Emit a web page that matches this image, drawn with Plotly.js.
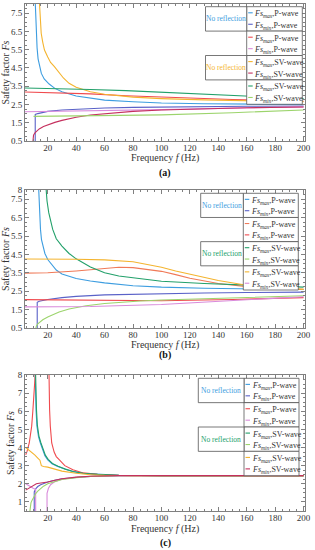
<!DOCTYPE html>
<html><head><meta charset="utf-8">
<script src="https://cdn.plot.ly/plotly-3.0.1.min.js"></script>
<style>html,body{margin:0;padding:0;background:#fff}#chart{width:315px;height:550px}</style>
</head><body><div id="chart"></div>
<script>
// ---------- Panel (a) data ----------
const a_maxP_noref_f = [11.1, 11.5, 12.0, 12.5, 13.2, 14.2, 15.5, 17.5, 21, 25, 30, 40, 50, 60, 80, 100, 130, 160, 200];
const a_maxP_noref_v = [8.3, 7.2, 6.3, 5.6, 5.0, 4.57, 4.2, 3.9, 3.62, 3.38, 3.2, 2.96, 2.83, 2.74, 2.65, 2.58, 2.54, 2.52, 2.5];
const a_minP_noref_f = [11.2, 11.2, 13, 16, 20, 30, 40, 60, 80, 100, 130, 160, 200];
const a_minP_noref_v = [0.4, 1.95, 2.0, 2.06, 2.12, 2.2, 2.25, 2.31, 2.34, 2.36, 2.38, 2.4, 2.42];
const a_maxP_f = [4, 25, 50, 75, 100, 125, 150, 175, 200];
const a_maxP_v = [3.18, 3.15, 3.08, 2.98, 2.9, 2.83, 2.77, 2.72, 2.68];
const a_minP_f = [4, 50, 100, 150, 200];
const a_minP_v = [2.1, 2.14, 2.22, 2.3, 2.37];
const a_maxSV_noref_f = [14.0, 14.6, 15.4, 16.5, 17.7, 20, 22, 24.7, 28, 31, 35, 40, 50, 60, 80, 100, 130, 160, 200];
const a_maxSV_noref_v = [8.3, 7.2, 6.4, 5.9, 5.48, 5.1, 4.8, 4.57, 4.25, 3.95, 3.66, 3.44, 3.2, 3.06, 2.9, 2.82, 2.75, 2.7, 2.65];
const a_minSV_noref_f = [9.5, 9.6, 10, 11, 12, 14, 17, 20, 25, 30, 40, 50, 60, 80, 100, 130, 160, 200];
const a_minSV_noref_v = [0.4, 0.7, 0.82, 0.95, 1.04, 1.16, 1.29, 1.38, 1.52, 1.63, 1.8, 1.92, 2.0, 2.12, 2.2, 2.27, 2.32, 2.36];
const a_maxSV_f = [4, 25, 50, 75, 100, 125, 150, 175, 200];
const a_maxSV_v = [3.4, 3.38, 3.32, 3.26, 3.18, 3.09, 3.0, 2.91, 2.82];
const a_minSV_f = [10, 50, 100, 150, 200];
const a_minSV_v = [1.85, 1.87, 1.93, 2.05, 2.2];

// ---------- Panel (b) data ----------
const b_maxP_noref_f = [13.5, 14.2, 14.9, 15.6, 16.5, 18, 20, 23, 26, 30, 35, 40, 50, 60, 80, 100, 130, 160, 200];
const b_maxP_noref_v = [8.3, 6.77, 5.86, 5.3, 4.95, 4.55, 4.22, 3.9, 3.65, 3.44, 3.3, 3.19, 3.05, 2.95, 2.8, 2.72, 2.66, 2.62, 2.59];
const b_minP_noref_f = [12.6, 12.6, 14, 17, 20, 30, 40, 60, 80, 100, 130, 160, 200];
const b_minP_noref_v = [0.4, 1.9, 1.95, 2.01, 2.05, 2.15, 2.22, 2.3, 2.34, 2.37, 2.4, 2.43, 2.45];
const b_maxP_f = [4, 20, 40, 60, 70, 80, 90, 100, 110, 120, 140, 160, 180, 200];
const b_maxP_v = [3.48, 3.5, 3.6, 3.75, 3.8, 3.78, 3.7, 3.58, 3.4, 3.2, 2.92, 2.75, 2.65, 2.6];
const b_minP_f = [4, 50, 100, 150, 200];
const b_minP_v = [2.04, 2.0, 1.98, 2.05, 2.15];
const b_maxSV_noref_f = [18.6, 19.5, 20.7, 22, 23.5, 26, 30, 35, 40, 50, 60, 70, 80, 100, 130, 160, 200];
const b_maxSV_noref_v = [8.3, 7.4, 6.77, 6.25, 5.86, 5.35, 4.95, 4.55, 4.26, 3.82, 3.5, 3.33, 3.22, 3.04, 2.92, 2.84, 2.72];
const b_minSV_noref_f = [11.5, 12, 13, 14.5, 16.5, 20, 23.5, 28, 35, 47, 60, 70, 85, 100, 130, 160, 200];
const b_minSV_noref_v = [0.45, 0.6, 0.72, 0.84, 0.95, 1.1, 1.22, 1.37, 1.53, 1.71, 1.83, 1.9, 1.97, 2.02, 2.1, 2.17, 2.25];
const b_maxSV_f = [4, 20, 40, 60, 70, 80, 90, 100, 110, 120, 140, 160, 180, 200];
const b_maxSV_v = [4.25, 4.25, 4.24, 4.2, 4.17, 4.1, 3.95, 3.8, 3.6, 3.42, 3.08, 2.82, 2.68, 2.6];
const b_minSV_f = [4, 50, 100, 150, 200];
const b_minSV_v = [1.65, 1.67, 1.78, 1.98, 2.2];

// ---------- Panel (c) data ----------
const c_maxP_noref_f = [11.0, 11.3, 11.8, 12.4, 13.5, 14.8, 16.5, 18, 20, 23, 27, 32, 37.7, 45, 55, 70, 100, 200];
const c_maxP_noref_v = [8.5, 7.04, 6.0, 5.18, 4.6, 4.25, 3.85, 3.55, 3.32, 3.1, 2.95, 2.8, 2.67, 2.58, 2.52, 2.47, 2.45, 2.45];
const c_minP_noref_f = [10.5, 10.5, 11.5, 13, 15, 18, 20, 25, 30, 40, 50, 70, 100, 200];
const c_minP_noref_v = [0.4, 1.55, 1.72, 1.85, 1.95, 2.05, 2.1, 2.2, 2.27, 2.35, 2.4, 2.44, 2.45, 2.45];
const c_maxP_low_f = [4.5, 5.5, 7, 8, 8.7, 9.5, 10.5, 11.2, 11.6];
const c_maxP_low_v = [3.6, 3.8, 4.25, 4.7, 5.18, 6.0, 7.04, 7.8, 8.5];
const c_maxP_high_f = [20.8, 21.0, 21.3, 21.8, 22.8, 24.5, 26, 28.2, 32, 37.7, 45, 55, 70, 100, 200];
const c_maxP_high_v = [8.5, 7.04, 6.1, 5.18, 4.25, 3.75, 3.5, 3.32, 3.0, 2.77, 2.6, 2.52, 2.47, 2.45, 2.45];
const c_minP_low_f = [4.5, 6, 8, 10, 11.5, 11.5];
const c_minP_low_v = [2.0, 1.92, 1.82, 1.74, 1.7, 0.4];
const c_minP_high_f = [19.5, 19.5, 20.5, 22, 25, 30, 40, 50, 70, 100, 200];
const c_minP_high_v = [0.4, 1.47, 1.75, 1.95, 2.12, 2.25, 2.36, 2.41, 2.44, 2.45, 2.45];
const c_maxSV_noref_f = [11.3, 11.6, 12.1, 12.7, 13.8, 15.1, 16.8, 18.3, 20.3, 23.3, 27.3, 32.3, 38, 45, 55, 70, 100, 200];
const c_maxSV_noref_v = [8.5, 7.1, 6.05, 5.22, 4.63, 4.28, 3.88, 3.58, 3.35, 3.12, 2.97, 2.81, 2.68, 2.58, 2.52, 2.47, 2.45, 2.45];
const c_minSV_noref_f = [7.3, 7.6, 8.2, 9, 10, 11.5, 13, 15, 17, 20, 25, 30, 40, 50, 70, 100, 200];
const c_minSV_noref_v = [0.4, 0.75, 0.95, 1.1, 1.25, 1.45, 1.6, 1.75, 1.87, 2.0, 2.14, 2.24, 2.34, 2.4, 2.44, 2.45, 2.45];
const c_maxSV_f = [4.5, 7, 9, 11, 13, 14.5, 15.5, 17, 20, 25, 30, 40, 50, 60, 80, 200];
const c_maxSV_v = [4.0, 3.85, 3.72, 3.58, 3.42, 3.3, 3.0, 2.95, 2.92, 2.8, 2.7, 2.58, 2.5, 2.47, 2.45, 2.45];
const c_minSV_f = [4.5, 6, 8, 10, 12, 14, 17, 20, 25, 30, 40, 50, 70, 100, 200];
const c_minSV_v = [1.65, 1.72, 1.85, 1.95, 2.0, 2.03, 2.06, 2.1, 2.2, 2.28, 2.37, 2.42, 2.45, 2.45, 2.45];

// ---------- ticks & labels ----------
const xTickVals = [20, 40, 60, 80, 100, 120, 140, 160, 180, 200];
const yTickValsAB = [0.5, 1.5, 2.5, 3.5, 4.5, 5.5, 6.5, 7.5, 8];
const yTickValsC = [1, 2, 3, 4, 5, 6, 7, 8];
const legendSubs = ['max', 'min', 'max', 'min', 'max', 'min', 'max', 'min'];
const legendWaves = ['P-wave', 'P-wave', 'P-wave', 'P-wave', 'SV-wave', 'SV-wave', 'SV-wave', 'SV-wave'];
const noRefText = 'No reflection';
const panelLabels = ['(a)', '(b)', '(c)'];
const yTitle = 'Safety factor <i>Fs</i>';
const xTitle = 'Frequency <i>f</i> (Hz)';

// ---------- colours ----------
const C = {
  lblue: '#3d9de0', indigo: '#5a62c8', red: '#f04a4e', pink: '#d98bdb',
  yellow: '#f4b42f', crimson: '#c5305e', green: '#22a06a', lgreen: '#9cd46c', salmon: '#f07a58'
};

const FONT = 'Liberation Serif';
const W = 315, H = 550, ML = 25, MR = 10;
const px2x = px => (px - ML) / (W - ML - MR);
const py2y = py => 1 - py / H;

const panels = [
  { ax: '', top: 4, bottom: 141, yticks: yTickValsAB,
    series: [
      [a_maxP_noref_f, a_maxP_noref_v, C.lblue], [a_minP_noref_f, a_minP_noref_v, C.indigo],
      [a_maxP_f, a_maxP_v, C.red], [a_minP_f, a_minP_v, C.pink],
      [a_maxSV_noref_f, a_maxSV_noref_v, C.yellow], [a_minSV_noref_f, a_minSV_noref_v, C.crimson],
      [a_maxSV_f, a_maxSV_v, C.green], [a_minSV_f, a_minSV_v, C.lgreen]
    ],
    legColors: [C.lblue, C.indigo, C.red, C.pink, C.yellow, C.crimson, C.green, C.lgreen],
    labColors: [C.lblue, C.yellow],
    leg: { top: 6.7, bottom: 104.3, left: 246.7, right: 302.3, labLeft: 205.5 },
    xTitleY: 158, labY: 173 },
  { ax: '2', top: 190, bottom: 328, yticks: yTickValsAB,
    series: [
      [b_maxP_noref_f, b_maxP_noref_v, C.lblue], [b_minP_noref_f, b_minP_noref_v, C.indigo],
      [b_maxP_f, b_maxP_v, C.salmon], [b_minP_f, b_minP_v, C.red],
      [b_maxSV_noref_f, b_maxSV_noref_v, C.green], [b_minSV_noref_f, b_minSV_noref_v, C.lgreen],
      [b_maxSV_f, b_maxSV_v, C.yellow], [b_minSV_f, b_minSV_v, C.pink]
    ],
    legColors: [C.lblue, C.indigo, C.salmon, C.red, C.green, C.lgreen, C.yellow, C.pink],
    labColors: [C.lblue, C.green],
    leg: { top: 193.3, bottom: 290, left: 243.3, right: 298.3, labLeft: 200.7 },
    xTitleY: 345, labY: 355 },
  { ax: '3', top: 375, bottom: 511, yticks: yTickValsC,
    series: [
      [c_maxP_noref_f, c_maxP_noref_v, C.lblue], [c_minP_noref_f, c_minP_noref_v, C.indigo],
      [c_maxP_low_f, c_maxP_low_v, C.red], [c_maxP_high_f, c_maxP_high_v, C.red],
      [c_minP_low_f, c_minP_low_v, C.pink], [c_minP_high_f, c_minP_high_v, C.pink],
      [c_minSV_noref_f, c_minSV_noref_v, C.lgreen], [c_maxSV_noref_f, c_maxSV_noref_v, C.green],
      [c_maxSV_f, c_maxSV_v, C.yellow], [c_minSV_f, c_minSV_v, C.crimson]
    ],
    legColors: [C.lblue, C.indigo, C.red, C.pink, C.green, C.lgreen, C.yellow, C.crimson],
    labColors: [C.lblue, C.green],
    leg: { top: 378.3, bottom: 475.7, left: 244, right: 299, labLeft: 198.3 },
    xTitleY: 529, labY: 543 }
];

const traces = [], shapes = [], annotations = [];
const layout = {
  width: W, height: H, margin: { l: ML, r: MR, t: 0, b: 0 },
  paper_bgcolor: '#fff', plot_bgcolor: '#fff', showlegend: false,
  font: { family: FONT, size: 9, color: '#333' }
};

panels.forEach((p, i) => {
  const xa = 'x' + p.ax, ya = 'y' + p.ax;
  p.series.forEach(s => traces.push({
    x: s[0], y: s[1], type: 'scatter', mode: 'lines', xaxis: xa, yaxis: ya,
    line: { color: s[2], width: 1.1 }, hoverinfo: 'skip'
  }));
  const common = {
    showline: true, linecolor: '#808080', linewidth: 1, mirror: 'ticks',
    ticks: 'inside', ticklen: 4, tickcolor: '#808080', showgrid: false, zeroline: false,
    tickfont: { family: FONT, size: 9, color: '#333' }
  };
  layout['xaxis' + p.ax] = Object.assign({}, common, {
    domain: [0, 1], anchor: ya, range: [4, 201], tickvals: xTickVals, ticklabelstandoff: -2,
    minor: { ticks: 'inside', ticklen: 2, dtick: 5, tick0: 0, tickcolor: '#808080' }
  });
  layout['yaxis' + p.ax] = Object.assign({}, common, {
    domain: [py2y(p.bottom), py2y(p.top)], anchor: xa, range: [0.5, 8], tickvals: p.yticks,
    minor: { ticks: 'inside', ticklen: 2, dtick: 0.25, tick0: 0, tickcolor: '#808080' },
    title: { text: yTitle, font: { family: FONT, size: 10, color: '#333' }, standoff: 1 }
  });
  annotations.push({ xref: 'paper', yref: 'paper', x: px2x(165), y: py2y(p.xTitleY),
    text: xTitle, showarrow: false, font: { family: FONT, size: 10, color: '#333' }, xanchor: 'center', yanchor: 'middle' });
  annotations.push({ xref: 'paper', yref: 'paper', x: px2x(165), y: py2y(p.labY),
    text: '<b>' + panelLabels[i] + '</b>', showarrow: false, font: { family: FONT, size: 10, color: '#111' }, xanchor: 'center', yanchor: 'middle' });

  // legend boxes
  const L = p.leg, gh = (L.bottom - L.top) / 4;
  for (let g = 0; g < 4; g++) {
    const y0 = L.top + g * gh, y1 = y0 + gh;
    shapes.push({ type: 'rect', xref: 'paper', yref: 'paper', x0: px2x(L.left), x1: px2x(L.right),
      y0: py2y(y1), y1: py2y(y0), line: { color: '#555', width: 0.8 }, fillcolor: '#fff' });
    if (g === 0 || g === 2) {
      shapes.push({ type: 'rect', xref: 'paper', yref: 'paper', x0: px2x(L.labLeft), x1: px2x(L.left),
        y0: py2y(y1), y1: py2y(y0), line: { color: '#555', width: 0.8 }, fillcolor: '#fff' });
      annotations.push({ xref: 'paper', yref: 'paper', x: px2x((L.labLeft + L.left) / 2), y: py2y((y0 + y1) / 2),
        text: noRefText, showarrow: false, xanchor: 'center', yanchor: 'middle',
        font: { family: FONT, size: 7.5, color: p.labColors[g / 2] } });
    }
    for (let r = 0; r < 2; r++) {
      const k = g * 2 + r;
      const yy = y0 + gh * (r === 0 ? 0.25 : 0.72);
      shapes.push({ type: 'line', xref: 'paper', yref: 'paper', x0: px2x(L.left + 1.5), x1: px2x(L.left + 6),
        y0: py2y(yy), y1: py2y(yy), line: { color: p.legColors[k], width: 1.1 } });
      annotations.push({ xref: 'paper', yref: 'paper', x: px2x(L.left + 6.5), y: py2y(yy + 1.5),
        text: '<i>Fs</i><sub><i>' + legendSubs[k] + '</i></sub>,' + legendWaves[k],
        showarrow: false, xanchor: 'left', yanchor: 'middle', borderpad: 0,
        font: { family: FONT, size: 8, color: '#333' } });
    }
  }
});
layout.shapes = shapes;
layout.annotations = annotations;
Plotly.newPlot('chart', traces, layout, { staticPlot: true, displayModeBar: false });
</script>
</body></html>
